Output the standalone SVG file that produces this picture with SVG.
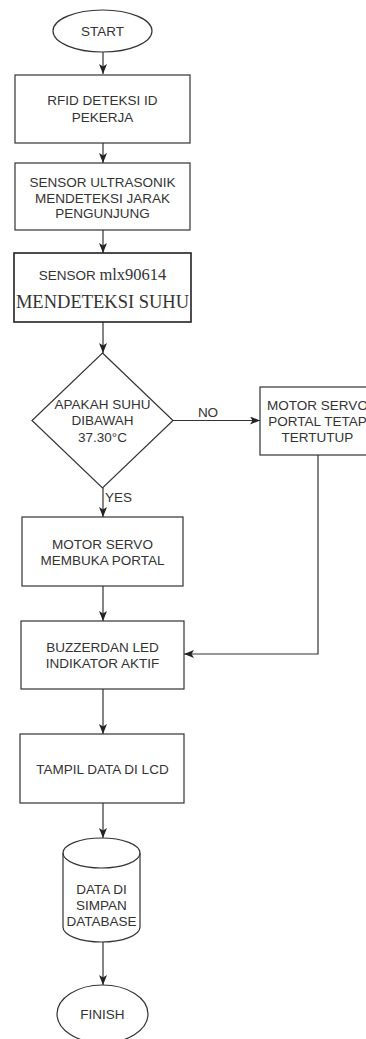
<svg xmlns="http://www.w3.org/2000/svg" width="366" height="1039" viewBox="0 0 366 1039">
<defs>
<marker id="arr" viewBox="0 0 10 8" refX="10" refY="4" markerWidth="10" markerHeight="8" markerUnits="userSpaceOnUse" orient="auto">
<path d="M0,0 L10,4 L0,8 L2.5,4 Z" fill="#222"/>
</marker>
<style>
.s{fill:#fff;stroke:#333;stroke-width:1.2}
.t{font-family:"Liberation Sans",Arial,sans-serif;font-size:13.5px;fill:#333;text-anchor:middle}
.c{fill:none;stroke:#333;stroke-width:1.2}
</style>
</defs>
<rect width="366" height="1039" fill="#fff"/>
<g id="connectors">
<path class="c" d="M103,52 L103,74" marker-end="url(#arr)"/>
<path class="c" d="M103,143 L103,163" marker-end="url(#arr)"/>
<path class="c" d="M103,230 L103,253" marker-end="url(#arr)"/>
<path class="c" d="M103,322 L103,353" marker-end="url(#arr)"/>
<path class="c" d="M173,420.5 L260,420.5" marker-end="url(#arr)"/>
<path class="c" d="M103,488 L103,517" marker-end="url(#arr)"/>
<path class="c" d="M103,586 L103,621" marker-end="url(#arr)"/>
<path class="c" d="M318,455 L318,654 L184,654" marker-end="url(#arr)"/>
<path class="c" d="M103,689 L103,734" marker-end="url(#arr)"/>
<path class="c" d="M103,803 L103,838" marker-end="url(#arr)"/>
<path class="c" d="M103,942 L103,985" marker-end="url(#arr)"/>
<text class="t" x="208" y="417">NO</text>
<text class="t" x="105" y="502" style="text-anchor:start">YES</text>
</g>
<g id="start">
<ellipse class="s" cx="102.5" cy="31" rx="49.5" ry="21"/>
<text class="t" x="102.5" y="36">START</text>
</g>
<g id="rfid">
<rect class="s" x="15" y="75" width="175" height="68"/>
<text class="t" x="102.5" y="105">RFID DETEKSI ID</text>
<text class="t" x="102.5" y="122">PEKERJA</text>
</g>
<g id="ultrasonik">
<rect class="s" x="15" y="163" width="175" height="67"/>
<text class="t" x="102.5" y="187">SENSOR ULTRASONIK</text>
<text class="t" x="102.5" y="203">MENDETEKSI JARAK</text>
<text class="t" x="102.5" y="218">PENGUNJUNG</text>
</g>
<g id="mlx">
<rect class="s" x="14" y="253" width="177" height="69" style="stroke-width:1.6;stroke:#222"/>
<text class="t" x="102.5" y="280"><tspan style="font-size:13.5px">SENSOR </tspan><tspan style="font-family:'Liberation Serif','Times New Roman',serif;font-size:16.5px">mlx90614</tspan></text>
<text class="t" x="102.5" y="308" style="font-family:'Liberation Serif','Times New Roman',serif;font-size:18.5px">MENDETEKSI SUHU</text>
</g>
<g id="decision">
<polygon class="s" points="102.5,353 173,420.5 102.5,488 32,420.5"/>
<text class="t" x="102.5" y="409">APAKAH SUHU</text>
<text class="t" x="102.5" y="425">DIBAWAH</text>
<text class="t" x="102.5" y="442">37.30°C</text>
</g>
<g id="tertutup">
<rect class="s" x="260" y="387" width="115" height="68"/>
<text class="t" x="317.5" y="410">MOTOR SERVO</text>
<text class="t" x="317.5" y="426">PORTAL TETAP</text>
<text class="t" x="317.5" y="442">TERTUTUP</text>
</g>
<g id="membuka">
<rect class="s" x="22" y="517" width="161" height="69"/>
<text class="t" x="102.5" y="549">MOTOR SERVO</text>
<text class="t" x="102.5" y="565">MEMBUKA PORTAL</text>
</g>
<g id="buzzer">
<rect class="s" x="21" y="621" width="163" height="68"/>
<text class="t" x="102.5" y="652">BUZZERDAN LED</text>
<text class="t" x="102.5" y="668">INDIKATOR AKTIF</text>
</g>
<g id="lcd">
<rect class="s" x="20" y="734" width="164" height="69"/>
<text class="t" x="102.5" y="774">TAMPIL DATA DI LCD</text>
</g>
<g id="database">
<path class="s" d="M63,853 A38.5,15 0 0,1 140,853 L140,927 A38.5,15 0 0,1 63,927 Z"/>
<path class="c" d="M63,853 A38.5,15 0 0,0 140,853"/>
<text class="t" x="101.5" y="894">DATA DI</text>
<text class="t" x="101.5" y="910">SIMPAN</text>
<text class="t" x="101.5" y="926">DATABASE</text>
</g>
<g id="finish">
<ellipse class="s" cx="102.5" cy="1014" rx="45.5" ry="29"/>
<text class="t" x="102.5" y="1019">FINISH</text>
</g>
</svg>
